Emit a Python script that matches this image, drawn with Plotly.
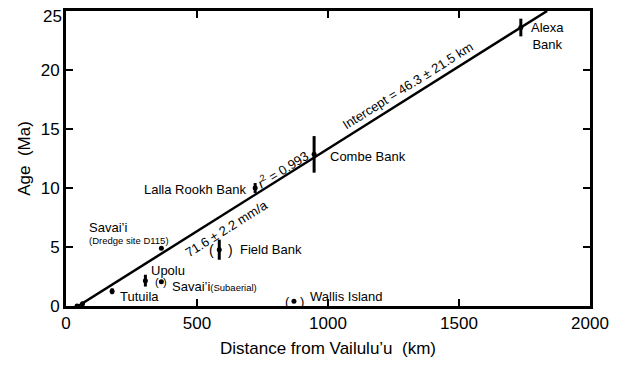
import plotly.graph_objects as go

# ---- data ----
site_names = ["Vailulu'u", "Ta'u", "Tutuila", "Upolu", "Savai'i (subaerial)",
              "Savai'i (D115)", "Field Bank", "Lalla Rookh Bank", "Combe Bank",
              "Wallis Island", "Alexa Bank"]
distance_km = [42, 63, 176, 303, 364, 364, 585, 722, 947, 870, 1736]
age_ma = [0.0, 0.2, 1.25, 2.15, 2.05, 4.9, 4.77, 10.0, 12.85, 0.4, 23.6]
age_err = [0, 0, 0.25, 0.5, 0, 0, 0.85, 0.42, 1.55, 0, 0.75]

intercept_km = 46.3
rate_km_per_ma = 71.6
age_max = 25

x_ticks = [0, 500, 1000, 1500, 2000]
y_ticks = [0, 5, 10, 15, 20, 25]
y_ticktext = ["0", "5", "10", "15", "20", "25"]

FONT = "Liberation Sans, Arial, Helvetica, sans-serif"

fit_x = [intercept_km, intercept_km + age_max * rate_km_per_ma]
fit_y = [0, age_max]

fig = go.Figure()
fig.add_trace(go.Scatter(x=fit_x, y=fit_y, mode="lines",
                         line=dict(color="black", width=2.5),
                         hoverinfo="skip", showlegend=False))
fig.add_trace(go.Scatter(x=distance_km, y=age_ma, mode="markers", text=site_names,
                         marker=dict(color="black", size=5),
                         error_y=dict(type="data", array=age_err, visible=True,
                                      thickness=3, width=0, color="black"),
                         cliponaxis=False, showlegend=False))

ann = []
def label(x, y, text, anchor="left", size=13, angle=0):
    ann.append(dict(x=x, y=y, xref="x", yref="y", text=text, showarrow=False,
                    xanchor=anchor if angle == 0 else "center", yanchor="middle",
                    textangle=angle, font=dict(family=FONT, size=size, color="black")))

def parens(i, dl, dr, size=14):
    for t, s in (("(", dl), (")", dr)):
        ann.append(dict(x=distance_km[i], y=age_ma[i], xref="x", yref="y", text=t,
                        showarrow=False, xanchor="center", yanchor="middle", xshift=s,
                        borderpad=0, font=dict(family=FONT, size=size, color="black")))

label(1767, 22.85, "Alexa<br>Bank")
label(1000, 12.63, "Combe Bank")
label(695, 9.84, "Lalla Rookh Bank", anchor="right")
label(80, 6.63, "Savai\u2019i")
label(80, 5.53, "(Dredge site D115)", size=9.5)
label(656, 4.77, "Field Bank")
label(317, 2.98, "Upolu")
label(398, 1.62, "Savai\u2019i<span style='font-size:9.5px'>(Subaerial)</span>")
label(198, 0.83, "Tutuila")
label(924, 0.78, "Wallis Island")
parens(6, -7.5, 11, 14)
parens(4, -4.5, 3.5, 11)
parens(9, -6, 8, 13)

label(1305, 18.7, "Intercept = 46.3 \u00b1 21.5 km", angle=-32.2)
label(826, 11.65, "<i>r</i><sup>2</sup> = 0.993", angle=-32.2)
label(613, 6.6, "71.6 \u00b1 2.2 mm/a", angle=-32.2)

# top tick label drawn slightly below the frame (as in the reference)
ann.append(dict(x=0, y=y_ticks[-1], xref="paper", yref="y", text=y_ticktext[-1],
                showarrow=False, xanchor="right", yanchor="middle", xshift=-2, yshift=-5,
                font=dict(family=FONT, size=17, color="black")))

axis_common = dict(showline=True, linewidth=2.7, linecolor="black", mirror="ticks",
                   ticks="inside", ticklen=7, tickwidth=1.5, tickcolor="black",
                   showgrid=False, zeroline=False, automargin=False,
                   tickfont=dict(family=FONT, size=17, color="black"))

# The page adds an 8 px body margin, so the figure is 8 px smaller each way.
fig.update_layout(
    width=613, height=357,
    margin=dict(l=58, r=31, t=2.5, b=58.5),
    paper_bgcolor="white", plot_bgcolor="white",
    font=dict(family=FONT, color="black"),
    annotations=ann,
    xaxis=dict(range=[0, 2000], tickvals=x_ticks,
               title=dict(text="Distance from Vailulu\u2019u\u00a0\u00a0(km)",
                          font=dict(family=FONT, size=17), standoff=10),
               **axis_common),
    yaxis=dict(range=[0, 25], tickvals=y_ticks,
               ticktext=y_ticktext[:-1] + [""],
               title=dict(text="Age\u00a0\u00a0(Ma)", font=dict(family=FONT, size=17),
                          standoff=6),
               **axis_common),
)

fig.write_html("out.html")
